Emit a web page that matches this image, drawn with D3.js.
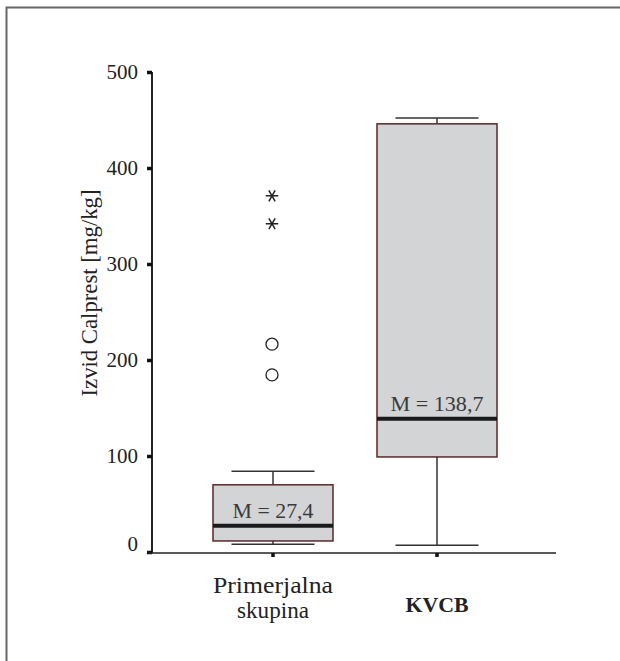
<!DOCTYPE html>
<html>
<head>
<meta charset="utf-8">
<script src="https://cdn.jsdelivr.net/npm/d3@7"></script>
</head>
<body style="margin:0;background:#fff">
<svg id="chart" width="620" height="661"></svg>
<script>
// Groups and their box-plot summaries (mg/kg)
const groups = ["Primerjalna skupina", "KVCB"];
const groupLabelLines = [["Primerjalna", "skupina"], ["KVCB"]];
const groupLabelBold = [false, true];
const whiskerLow = [8, 7];
const q1 = [11.5, 99];
const median = [27.4, 138.7];
const q3 = [70, 446];
const whiskerHigh = [84, 452];
const medianLabels = ["M = 27,4", "M = 138,7"];
// Outliers of the first group: circles = outliers, stars = extreme values
const outlierCircles = [216.5, 184.5];
const outlierStars = [371, 342];
const yTicks = [0, 100, 200, 300, 400, 500];
const yTitle = "Izvid Calprest [mg/kg]";

const FONT = "'Liberation Serif'";

const svg = d3.select("#chart");

// Outer frame (runs past the right and bottom edges)
svg.append("rect")
  .attr("x", 6.5).attr("y", 7.5)
  .attr("width", 700).attr("height", 700)
  .attr("fill", "none").attr("stroke", "#666").attr("stroke-width", 2);

const y = d3.scaleLinear().domain([0, 500]).range([552, 72]);
const x = d3.scaleBand().domain(groups).range([191, 519]).padding(0);

const cx = g => x(g) + x.bandwidth() / 2;
const boxW = 120, capW = 83;

// Y axis
const yAxis = svg.append("g")
  .attr("transform", "translate(152,0)")
  .call(d3.axisLeft(y).tickValues(yTicks).tickSize(5).tickPadding(9).tickFormat(d3.format("d")));
yAxis.attr("font-family", null);
yAxis.select(".domain").attr("stroke", "#222").attr("stroke-width", 2)
  .attr("d", "M0," + y(500) + "V" + (y(0) + 1));
yAxis.selectAll(".tick line").attr("stroke", "#111").attr("stroke-width", 3.5);
yAxis.selectAll(".tick text")
  .style("font-family", FONT)
  .attr("font-size", 21).attr("fill", "#222")
  .attr("dy", d => d === 0 ? "-0.05em" : "0.33em");

// X axis
const xAxis = svg.append("g")
  .attr("transform", "translate(0,553)")
  .call(d3.axisBottom(x).tickSize(4).tickFormat(""));
xAxis.select(".domain").attr("stroke", "#222").attr("stroke-width", 1.5)
  .attr("d", "M148,0H556");
xAxis.selectAll(".tick line").attr("stroke", "#111").attr("stroke-width", 3.5);

// Y-axis title
svg.append("text")
  .attr("transform", "translate(97,293) rotate(-90)")
  .attr("text-anchor", "middle")
  .style("font-family", FONT)
  .attr("font-size", 24).attr("fill", "#222")
  .attr("textLength", 207).attr("lengthAdjust", "spacingAndGlyphs")
  .text(yTitle);

// Box plots
const labelWidths = [[120, 72], [63]];
const medianLabelWidths = [81, 93];
groups.forEach((g, i) => {
  const c = cx(g);
  const gg = svg.append("g");
  // whisker stems
  gg.append("line").attr("x1", c).attr("x2", c)
    .attr("y1", y(whiskerHigh[i])).attr("y2", y(q3[i]))
    .attr("stroke", "#333").attr("stroke-width", 1.5);
  gg.append("line").attr("x1", c).attr("x2", c)
    .attr("y1", y(q1[i])).attr("y2", y(whiskerLow[i]))
    .attr("stroke", "#333").attr("stroke-width", 1.5);
  // caps
  [whiskerHigh[i], whiskerLow[i]].forEach(v => {
    gg.append("line").attr("x1", c - capW / 2).attr("x2", c + capW / 2)
      .attr("y1", y(v)).attr("y2", y(v))
      .attr("stroke", "#333").attr("stroke-width", 1.5);
  });
  // box
  gg.append("rect")
    .attr("x", c - boxW / 2).attr("y", y(q3[i]))
    .attr("width", boxW).attr("height", y(q1[i]) - y(q3[i]))
    .attr("fill", "#d3d4d6").attr("stroke", "#5e2626").attr("stroke-width", 1.5);
  // median
  gg.append("line").attr("x1", c - boxW / 2).attr("x2", c + boxW / 2)
    .attr("y1", y(median[i])).attr("y2", y(median[i]))
    .attr("stroke", "#1a1a1a").attr("stroke-width", 4);
  gg.append("text")
    .attr("x", c).attr("y", y(median[i]) - 8)
    .attr("text-anchor", "middle")
    .style("font-family", FONT)
    .attr("font-size", 22).attr("fill", "#3a3a3a")
    .attr("textLength", medianLabelWidths[i]).attr("lengthAdjust", "spacingAndGlyphs")
    .text(medianLabels[i]);
  // category labels
  groupLabelLines[i].forEach((line, k, arr) => {
    svg.append("text")
      .attr("x", c)
      .attr("y", arr.length > 1 ? 593 + k * 25 : 612)
      .attr("text-anchor", "middle")
      .style("font-family", FONT)
      .attr("font-size", groupLabelBold[i] ? 22 : 24)
      .attr("font-weight", groupLabelBold[i] ? "bold" : "normal")
      .attr("fill", "#222")
      .attr("textLength", labelWidths[i][k]).attr("lengthAdjust", "spacingAndGlyphs")
      .text(line);
  });
});

// Outliers of the first group
const c0 = cx(groups[0]);
svg.selectAll(".outc").data(outlierCircles).enter().append("circle")
  .attr("cx", c0 - 1).attr("cy", d => y(d)).attr("r", 6)
  .attr("fill", "none").attr("stroke", "#222").attr("stroke-width", 1.3);
svg.selectAll(".outs").data(outlierStars).enter().append("path")
  .attr("transform", d => "translate(" + (c0 - 1) + "," + y(d) + ") rotate(90)")
  .attr("d", d3.symbol(d3.symbolAsterisk, 110))
  .attr("fill", "none").attr("stroke", "#222").attr("stroke-width", 1.5);
</script>
</body>
</html>
